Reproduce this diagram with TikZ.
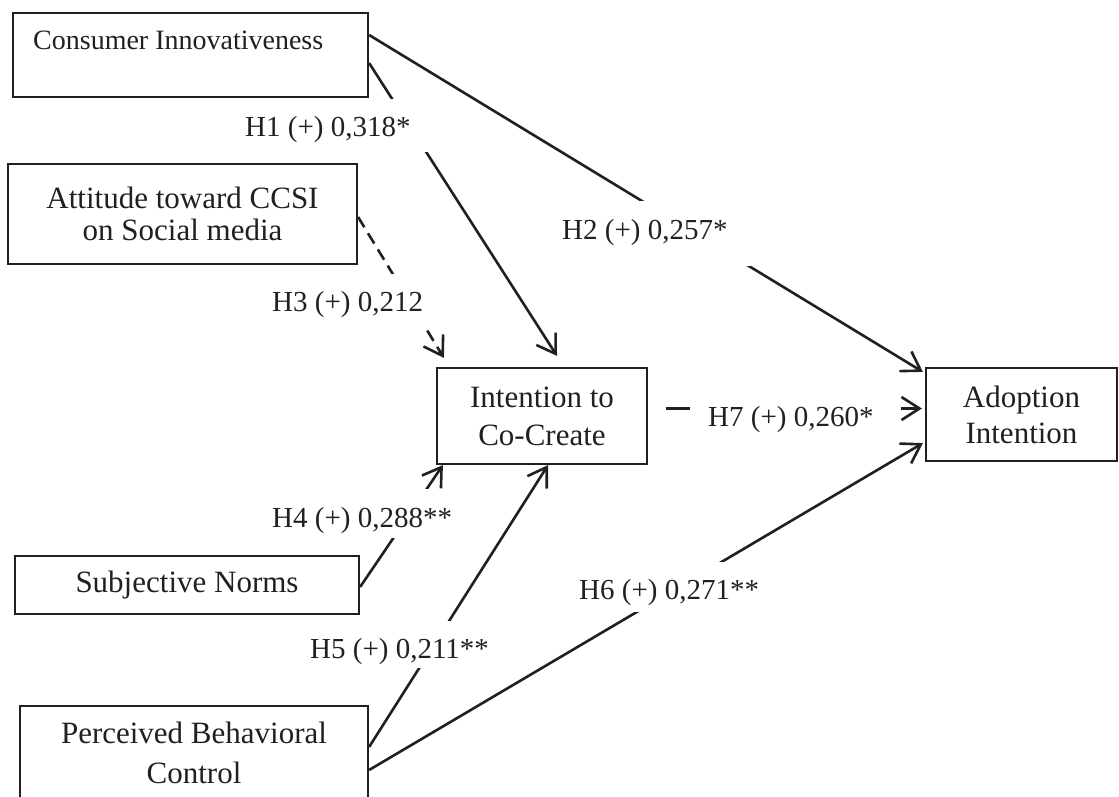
\documentclass[tikz,border=0pt]{standalone}
\usepackage{fontspec}
\setmainfont{Liberation Serif}
\usetikzlibrary{arrows.meta}
\definecolor{ink}{HTML}{231F20}
\tikzset{
  box/.style={draw=ink, line width=2.2pt, inner sep=0pt, align=center, text=ink,
    font=\fontsize{31}{38}\selectfont},
  conn/.style={draw=ink, line width=2.6pt, -{Straight Barb[length=18pt,width=23pt]}},
  dconn/.style={conn, dash pattern=on 12pt off 7pt},
  lbl/.style={fill=white, inner sep=0pt, anchor=base west, text=ink,
    font=\fontsize{29}{34}\selectfont}
}
\begin{document}
\begin{tikzpicture}[x=1pt,y=-1pt]
\clip (0,0) rectangle (1119,797);
\fill[white] (0,0) rectangle (1119,797);
% boxes
\node[box, minimum width=355pt, minimum height=84pt] (ci) at (190.5,55) {};
\node[anchor=base west, inner sep=0pt, text=ink, font=\fontsize{28}{33}\selectfont] (citext) at (33,50) {Consumer Innovativeness};
\node[box, minimum width=349pt, minimum height=100pt, font=\fontsize{31}{32}\selectfont] (att) at (182.5,214) {Attitude toward CCSI\\on Social media};
\node[box, minimum width=210pt, minimum height=96pt, font=\fontsize{31}{38}\selectfont] (itc) at (542,416) {Intention to\\Co-Create};
\node[box, minimum width=191pt, minimum height=93pt, font=\fontsize{31}{36}\selectfont] (ai) at (1021.5,414.5) {Adoption\\Intention};
\node[box, minimum width=344pt, minimum height=58pt] (sn) at (187,585) {Subjective Norms};
\node[box, minimum width=348pt, minimum height=93pt, font=\fontsize{31}{40}\selectfont] (pbc) at (194,752.5) {Perceived Behavioral\\Control};
% connectors
\draw[conn] ([yshift=-8pt]ci.east) -- ([shift={(15pt,11pt)}]itc.north);
\draw[conn] ([yshift=20pt]ci.east) -- ([shift={(-2pt,-5pt)}]ai.north west);
\draw[dconn] ([yshift=-3pt]att.east) -- ([shift={(8pt,9pt)}]itc.north west);
\draw[conn] ([yshift=-2pt]sn.east) -- ([shift={(7pt,0pt)}]itc.south west);
\draw[conn] ([yshift=5.5pt]pbc.east) -- ([xshift=6pt]itc.south);
\draw[conn] ([yshift=-17.5pt]pbc.east) -- ([shift={(-2pt,19pt)}]ai.south west);
\draw[conn] ([shift={(18pt,7.5pt)}]itc.east) -- ([shift={(-3pt,6pt)}]ai.west);
% labels
\node[lbl, text height=38pt, text depth=15pt] (l1) at (240,137) {\hspace*{5pt}H1 (+) 0,318*\hspace*{18pt}};
\node[lbl, text height=38pt, text depth=27pt] (l2) at (555,239) {\hspace*{7pt}H2 (+) 0,257*\hspace*{23pt}};
\node[lbl, text height=37pt, text depth=15pt] (l3) at (265,311) {\hspace*{7pt}H3 (+) 0,212\hspace*{5pt}};
\node[lbl, text height=38pt, text depth=11pt] (l4) at (265,527) {\hspace*{7pt}H4 (+) 0,288**\hspace*{3pt}};
\node[lbl, text height=37pt, text depth=10pt] (l5) at (303,658) {\hspace*{7pt}H5 (+) 0,211**\hspace*{2pt}};
\node[lbl, text height=37pt, text depth=13pt] (l6) at (572,599) {\hspace*{7pt}H6 (+) 0,271**\hspace*{4pt}};
\node[lbl, text height=36pt, text depth=14pt] (l7) at (690,426) {\hspace*{18pt}H7 (+) 0,260*\hspace*{27pt}};
\end{tikzpicture}
\end{document}
